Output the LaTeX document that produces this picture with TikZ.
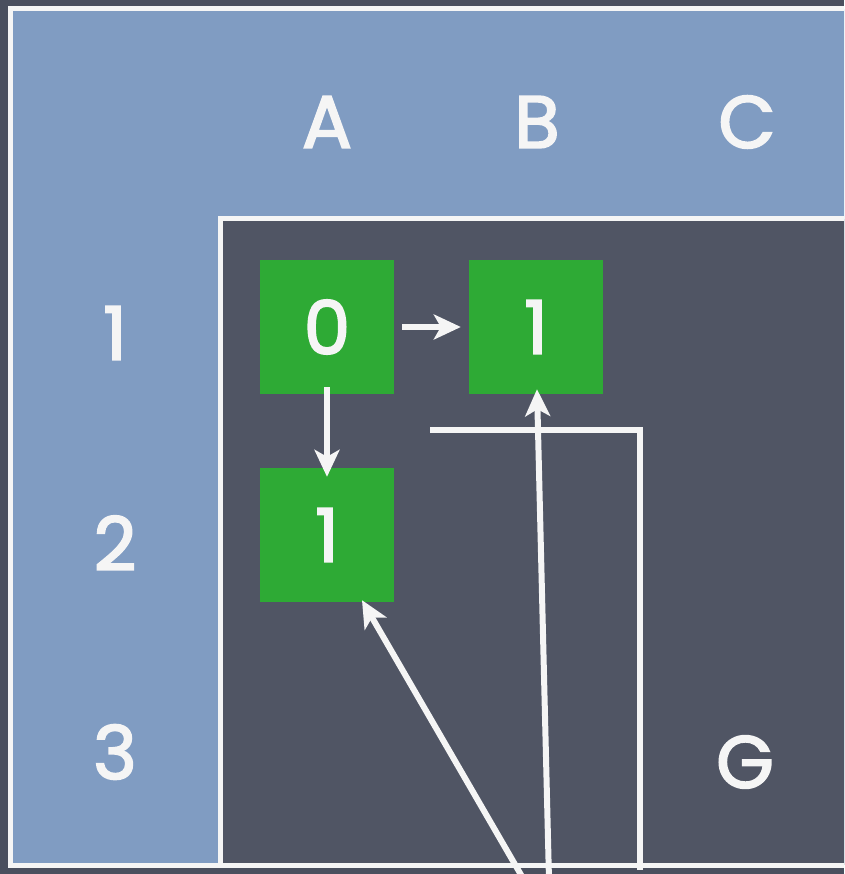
\documentclass[tikz,border=0pt]{standalone}
\usepackage{fontspec}
\setmainfont{Poppins}
\newfontfamily\chalkfont{Poppins}[FakeBold=2.5]
\usetikzlibrary{arrows.meta}
\definecolor{board}{RGB}{74,79,94}
\definecolor{boardin}{RGB}{80,85,100}
\definecolor{paleblue}{RGB}{128,156,194}
\definecolor{cellgreen}{RGB}{46,170,53}
\definecolor{chalk}{RGB}{245,245,245}
\tikzset{
  lbl/.style={text=chalk, font=\chalkfont\fontsize{74}{78}\selectfont, inner sep=0pt},
  cell/.style={fill=cellgreen, minimum width=134pt, minimum height=134pt, inner sep=0pt, text=chalk, font=\chalkfont\fontsize{74}{78}\selectfont},
  frame/.style={draw=chalk, line width=5pt},
  arr/.style={draw=chalk, line width=6pt, -{Stealth[length=27pt,width=25pt,inset=7pt]}},
  wline/.style={draw=chalk, line width=5.5pt}
}
\begin{document}
\begin{tikzpicture}[x=1pt,y=-1pt]
\useasboundingbox (0,0) rectangle (844,874);
\clip (0,0) rectangle (844,874);
\fill[board] (0,0) rectangle (844,874);
\fill[paleblue] (10,9) rectangle (870,865);
\draw[frame] (10,9) rectangle (870,865);
\fill[boardin] (220,219) rectangle (870,865);
\draw[frame] (220,219) rectangle (870,865);
% labels
\node[lbl] (la) at (327,122) {A};
\node[lbl] (lb) at (537,122) {B};
\node[lbl] (lc) at (747,122) {C};
\node[lbl] (r1) at (115,333) {1};
\node[lbl] (r2) at (115,543) {2};
\node[lbl] (r3) at (115,752) {3};
\node[lbl] (g) at (745,762) {G};
% cells
\node[cell] (a1) at (327,327) {0};
\node[cell] (b1) at (536,327) {1};
\node[cell] (a2) at (327,535) {1};
% arrows between cells
\draw[arr] ([xshift=8pt]a1.east) -- ([xshift=-8pt]b1.west);
\draw[arr] ([yshift=7pt]a1.south) -- ([yshift=-9pt]a2.north);
% bracket line
\coordinate (h0) at (430,430);
\coordinate (h1) at (640,430);
\coordinate (h2) at (640,870);
\draw[wline] (h0) -- (h1) -- (h2);
% long arrows
\coordinate (s1) at (524,880);
\coordinate (s2) at (549,880);
\draw[arr] (s1) -- ([xshift=35pt,yshift=2pt]a2.south);
\draw[arr] (s2) -- ([xshift=1pt,yshift=5pt]b1.south);
\end{tikzpicture}
\end{document}
